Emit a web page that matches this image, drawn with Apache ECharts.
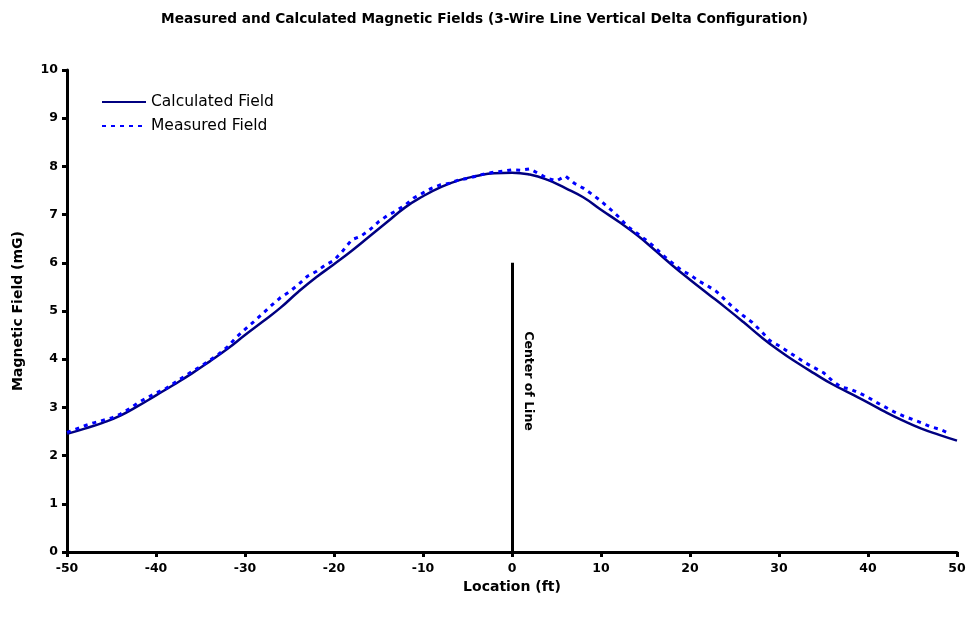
<!DOCTYPE html>
<html>
<head>
<meta charset="utf-8">
<script src="https://cdn.jsdelivr.net/npm/echarts@6/dist/echarts.min.js"></script>
<style>
  html, body { margin: 0; padding: 0; background: #fff; }
  #box { width: 969px; height: 617px; }
</style>
</head>
<body>
<div id="box"></div>
<script>
// calculated field, every 2 ft
const calcX = [-50, -48, -46, -44, -42, -40, -38, -36, -34, -32, -30, -28, -26, -24, -22, -20, -18, -16, -14, -12, -10, -8, -6, -4, -2,
  0, 2, 4, 6, 8, 10, 12, 14, 16, 18, 20, 22, 24, 26, 28, 30, 32, 34, 36, 38, 40, 42, 44, 46, 48, 50]
const calcY = [2.45, 2.56, 2.68, 2.83, 3.03, 3.25, 3.47, 3.70, 3.95, 4.21, 4.50, 4.78, 5.07, 5.40, 5.70, 5.97, 6.25, 6.55, 6.85, 7.15, 7.38, 7.57, 7.71, 7.80, 7.86,
  7.87, 7.83, 7.72, 7.55, 7.36, 7.10, 6.85, 6.58, 6.27, 5.95, 5.65, 5.36, 5.07, 4.77, 4.46, 4.18, 3.93, 3.70, 3.48, 3.29, 3.10, 2.90, 2.72, 2.56, 2.43, 2.31]

// measured field, every 1 ft from -50 to 49
const measX = []
for (let i = -50; i <= 49; i++) measX.push(i)
const measY = [2.48, 2.55, 2.62, 2.68, 2.73, 2.78, 2.86, 2.97, 3.10, 3.20,
  3.30, 3.38, 3.50, 3.62, 3.74, 3.85, 3.97, 4.10, 4.25, 4.45,
  4.62, 4.78, 4.95, 5.12, 5.28, 5.40, 5.55, 5.72, 5.82, 5.95,
  6.05, 6.25, 6.48, 6.55, 6.68, 6.85, 6.98, 7.08, 7.20, 7.35,
  7.45, 7.55, 7.62, 7.65, 7.72, 7.75, 7.80, 7.85, 7.88, 7.90,
  7.93, 7.92, 7.95, 7.85, 7.75, 7.70, 7.80, 7.65, 7.55, 7.42,
  7.28, 7.12, 6.95, 6.75, 6.62, 6.48, 6.33, 6.15, 6.00, 5.85,
  5.75, 5.62, 5.52, 5.40, 5.22, 5.05, 4.90, 4.76, 4.58, 4.38,
  4.28, 4.16, 4.04, 3.92, 3.82, 3.72, 3.55, 3.42, 3.38, 3.30,
  3.21, 3.10, 3.00, 2.90, 2.82, 2.75, 2.68, 2.60, 2.55, 2.47]

const centerX = 0
const centerTop = 6

const font = 'DejaVu Sans, Liberation Sans, sans-serif'
const pair = (xs, ys) => xs.map((x, i) => [x, ys[i]])

var myChart = echarts.init(document.getElementById('box'))
myChart.setOption({
  animation: false,
  title: {
    text: 'Measured and Calculated Magnetic Fields (3-Wire Line Vertical Delta Configuration)',
    left: 'center',
    top: 7,
    textStyle: { fontFamily: font, fontSize: 13.7, fontWeight: 'bold', color: '#000' }
  },
  grid: { left: 67, right: 12, top: 70, bottom: 65 },
  legend: {
    orient: 'vertical',
    left: 96,
    top: 89,
    itemWidth: 44,
    itemHeight: 14,
    itemGap: 8,
    itemStyle: { opacity: 0 },
    textStyle: { fontFamily: font, fontSize: 15.5, color: '#000' },
    data: ['Calculated Field', 'Measured Field']
  },
  xAxis: {
    type: 'value',
    min: -50,
    max: 50,
    interval: 10,
    name: 'Location (ft)',
    nameLocation: 'middle',
    nameGap: 22,
    nameTextStyle: { fontFamily: font, fontSize: 14, fontWeight: 'bold', color: '#000' },
    splitLine: { show: false },
    axisLine: { onZero: false, lineStyle: { color: '#000', width: 3 } },
    axisTick: { length: 5, lineStyle: { color: '#000', width: 3 } },
    axisLabel: { fontFamily: font, fontSize: 12.5, fontWeight: 'bold', color: '#000', margin: 10 }
  },
  yAxis: {
    type: 'value',
    min: 0,
    max: 10,
    interval: 1,
    name: 'Magnetic Field (mG)',
    nameLocation: 'middle',
    nameGap: 42,
    nameTextStyle: { fontFamily: font, fontSize: 14, fontWeight: 'bold', color: '#000' },
    splitLine: { show: false },
    axisLine: { show: true, onZero: false, lineStyle: { color: '#000', width: 3 } },
    axisTick: { show: true, length: 5, lineStyle: { color: '#000', width: 3 } },
    axisLabel: { fontFamily: font, fontSize: 12.5, fontWeight: 'bold', color: '#000', margin: 9 }
  },
  graphic: [
    {
      type: 'text',
      x: 528,
      y: 381,
      rotation: -Math.PI / 2,
      style: {
        text: 'Center of Line',
        font: 'bold 12.5px ' + font,
        fill: '#000',
        align: 'center',
        verticalAlign: 'middle'
      }
    }
  ],
  series: [
    {
      name: 'Calculated Field',
      type: 'line',
      data: pair(calcX, calcY),
      smooth: true,
      showSymbol: false,
      symbol: 'none',
      color: '#000080',
      lineStyle: { color: '#000080', width: 2.5 },
      z: 3,
      markLine: {
        silent: true,
        symbol: 'none',
        label: { show: false },
        lineStyle: { color: '#000', width: 3, type: 'solid' },
        data: [[{ coord: [centerX, 0] }, { coord: [centerX, centerTop] }]]
      }
    },
    {
      name: 'Measured Field',
      type: 'line',
      data: pair(measX, measY),
      showSymbol: false,
      symbol: 'none',
      color: '#0000ff',
      lineStyle: { color: '#0000ff', width: 3, type: [4, 5] },
      z: 4
    }
  ]
})
</script>
</body>
</html>
